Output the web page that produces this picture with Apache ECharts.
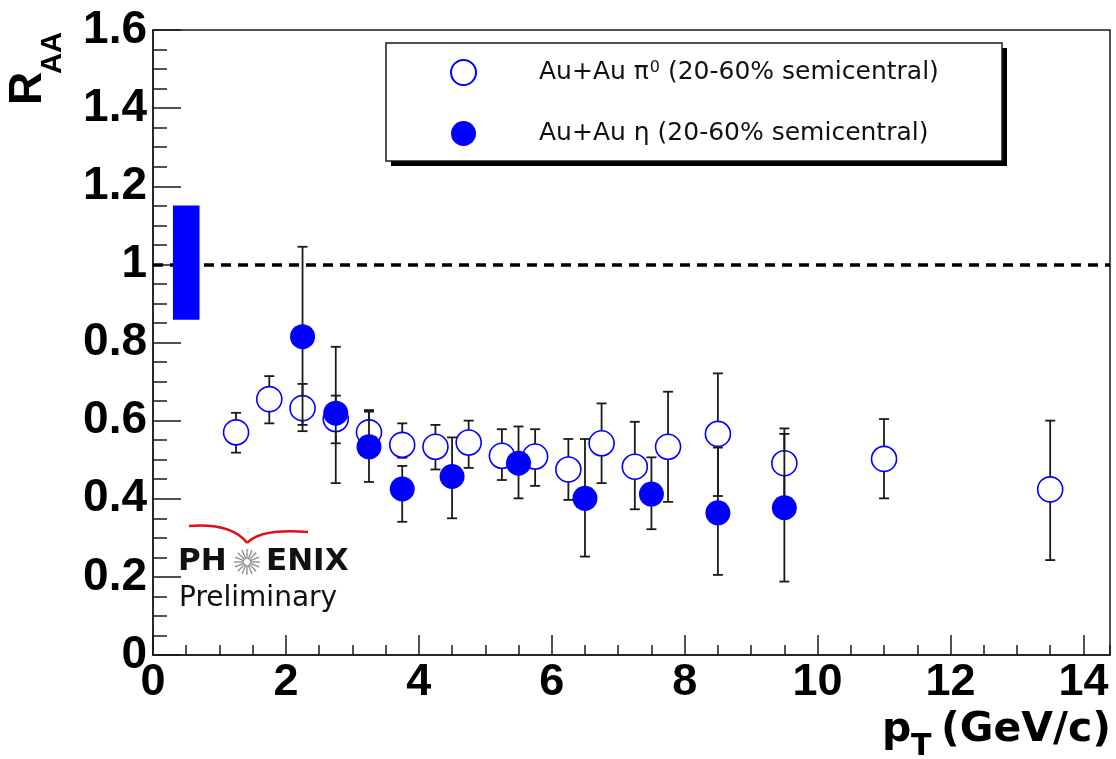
<!DOCTYPE html>
<html>
<head>
<meta charset="utf-8">
<title>R_AA vs pT</title>
<script src="https://cdn.jsdelivr.net/npm/echarts@6/dist/echarts.min.js"></script>
<style>
  html, body { margin: 0; padding: 0; background: #fff; }
  #chart { width: 1116px; height: 759px; }
</style>
</head>
<body>
<div id="chart"></div>
<script>
// pi0 R_AA, 20-60% Au+Au
const pi0Pt = [1.25, 1.75, 2.25, 2.75, 3.25, 3.75, 4.25, 4.75, 5.25, 5.75, 6.25, 6.75, 7.25, 7.75, 8.5, 9.5, 11.0, 13.5];
const pi0R  = [0.570, 0.655, 0.632, 0.604, 0.570, 0.538, 0.533, 0.544, 0.510, 0.508, 0.475, 0.542, 0.482, 0.533, 0.566, 0.491, 0.502, 0.424];
const pi0Lo = [0.518, 0.593, 0.589, 0.542, 0.515, 0.505, 0.475, 0.479, 0.448, 0.433, 0.397, 0.440, 0.373, 0.392, 0.407, 0.400, 0.401, 0.243];
const pi0Hi = [0.620, 0.714, 0.694, 0.664, 0.627, 0.593, 0.589, 0.600, 0.578, 0.578, 0.553, 0.644, 0.597, 0.674, 0.721, 0.580, 0.604, 0.600];

// eta R_AA, 20-60% Au+Au
const etaPt = [2.25, 2.75, 3.25, 3.75, 4.5, 5.5, 6.5, 7.5, 8.5, 9.5];
const etaR  = [0.815, 0.619, 0.533, 0.425, 0.457, 0.491, 0.401, 0.412, 0.364, 0.377];
const etaLo = [0.573, 0.440, 0.443, 0.341, 0.350, 0.401, 0.252, 0.322, 0.205, 0.188];
const etaHi = [1.045, 0.789, 0.623, 0.484, 0.557, 0.585, 0.553, 0.506, 0.531, 0.566];

// global normalisation uncertainty band drawn at unity
const normBoxX = [0.3, 0.7];
const normBoxY = [0.858, 1.151];
const unityLevel = 1;

// axes
const xRange = [0, 14.4];
const yRange = [0, 1.6];
const xMajorStep = 2;
const xMinorStep = 0.5;
const yMajorStep = 0.2;

const seriesNames = ['Au+Au π0 (20-60% semicentral)', 'Au+Au η (20-60% semicentral)'];

const TICK_FONT = '"Liberation Sans", Arial, Helvetica, sans-serif';
const TEXT_FONT = '"DejaVu Sans", "Liberation Sans", sans-serif';
const BLUE = '#0000ff';
const INK = '#1a1a1a';

function errorBars(params, api) {
  const x = api.value(0);
  const lo = api.coord([x, api.value(1)]);
  const hi = api.coord([x, api.value(2)]);
  const c = 5;
  const st = { stroke: INK, lineWidth: 1.8 };
  return {
    type: 'group',
    children: [
      { type: 'line', shape: { x1: lo[0], y1: lo[1], x2: hi[0], y2: hi[1] }, style: st },
      { type: 'line', shape: { x1: lo[0] - c, y1: lo[1], x2: lo[0] + c, y2: lo[1] }, style: st },
      { type: 'line', shape: { x1: hi[0] - c, y1: hi[1], x2: hi[0] + c, y2: hi[1] }, style: st }
    ]
  };
}

function normBox(params, api) {
  const p0 = api.coord([api.value(0), api.value(3)]);
  const p1 = api.coord([api.value(1), api.value(2)]);
  return {
    type: 'rect',
    shape: { x: p0[0], y: p0[1], width: p1[0] - p0[0], height: p1[1] - p0[1] },
    style: { fill: BLUE }
  };
}

const chart = echarts.init(document.getElementById('chart'), null, { renderer: 'canvas' });

// PHENIX logo star rays
const rays = [];
for (let k = 0; k < 16; k++) {
  const a = k * Math.PI / 8;
  rays.push({
    type: 'line',
    shape: { x1: 247 + 3 * Math.cos(a), y1: 562 + 3 * Math.sin(a), x2: 247 + 13 * Math.cos(a), y2: 562 + 13 * Math.sin(a) },
    style: { stroke: '#8a8a8a', lineWidth: 1.3 }
  });
}

const option = {
  animation: false,
  backgroundColor: '#fff',
  grid: { left: 153, right: 6, top: 30, bottom: 104, show: true, borderColor: INK, borderWidth: 1.5, backgroundColor: 'transparent', outerBoundsMode: 'none' },
  xAxis: [
    {
      type: 'value', min: xRange[0], max: xRange[1], interval: xMajorStep,
      axisLine: { show: true, onZero: false, lineStyle: { color: INK, width: 1.5 } },
      axisTick: { inside: true, length: 20, lineStyle: { color: INK, width: 1.5 } },
      splitLine: { show: false },
      axisLabel: { fontSize: 45, fontWeight: 'bold', color: '#000', fontFamily: TICK_FONT, margin: 5, showMaxLabel: false }
    },
    {
      type: 'value', min: xRange[0], max: xRange[1], interval: xMinorStep, position: 'bottom',
      axisLine: { show: false },
      axisTick: { inside: true, length: 10, lineStyle: { color: INK, width: 1.5 } },
      splitLine: { show: false },
      axisLabel: { show: false }
    }
  ],
  yAxis: {
    type: 'value', min: yRange[0], max: yRange[1], interval: yMajorStep,
    axisLine: { show: true, onZero: false, lineStyle: { color: INK, width: 1.5 } },
    axisTick: { inside: true, length: 28, lineStyle: { color: INK, width: 1.5 } },
    minorTick: { show: true, splitNumber: 4, length: 14, lineStyle: { color: INK, width: 1.5 } },
    splitLine: { show: false },
    axisLabel: { fontSize: 46, fontWeight: 'bold', color: '#000', fontFamily: TICK_FONT, margin: 6 }
  },
  legend: {
    data: seriesNames,
    orient: 'vertical',
    left: 450, top: 59,
    padding: 0,
    itemWidth: 25, itemHeight: 25, itemGap: 35,
    icon: 'circle',
    selectedMode: false,
    z: 10,
    formatter: function (name) {
      return name.indexOf('π0') >= 0
        ? '{t|Au+Au π}{s|0}{t| (20-60% semicentral)}'
        : '{t|' + name + '}';
    },
    textStyle: {
      padding: [0, 0, 0, 58],
      rich: {
        t: { fontSize: 25, color: '#111', fontFamily: TEXT_FONT },
        s: { fontSize: 16, color: '#111', fontFamily: TEXT_FONT, verticalAlign: 'top', padding: [0, 0, 10, 1] }
      }
    }
  },
  series: [
    {
      type: 'custom', name: 'pi0 errors', z: 2, silent: true,
      renderItem: errorBars,
      encode: { x: 0, y: [1, 2] },
      data: pi0Pt.map((x, i) => [x, pi0Lo[i], pi0Hi[i]]),
      markLine: {
        silent: true, symbol: ['none', 'none'], label: { show: false },
        lineStyle: { color: '#000', width: 3.5, type: [10, 7] },
        data: [{ yAxis: unityLevel }]
      }
    },
    {
      type: 'scatter', name: seriesNames[0], z: 3,
      symbol: 'circle', symbolSize: 25,
      itemStyle: { color: '#fff', borderColor: BLUE, borderWidth: 1.6, opacity: 1 },
      emphasis: { disabled: true },
      data: pi0Pt.map((x, i) => [x, pi0R[i]])
    },
    {
      type: 'custom', name: 'eta errors', z: 4, silent: true,
      renderItem: errorBars,
      encode: { x: 0, y: [1, 2] },
      data: etaPt.map((x, i) => [x, etaLo[i], etaHi[i]])
    },
    {
      type: 'scatter', name: seriesNames[1], z: 5,
      symbol: 'circle', symbolSize: 25,
      itemStyle: { color: BLUE, opacity: 1 },
      emphasis: { disabled: true },
      data: etaPt.map((x, i) => [x, etaR[i]])
    },
    {
      type: 'custom', name: 'normalisation', z: 6, silent: true,
      renderItem: normBox,
      encode: { x: [0, 1], y: [2, 3] },
      data: [[normBoxX[0], normBoxX[1], normBoxY[0], normBoxY[1]]]
    }
  ],
  graphic: [
    // legend frame with drop shadow
    { type: 'rect', z: 1, shape: { x: 391, y: 48, width: 616, height: 118 }, style: { fill: '#000' } },
    { type: 'rect', z: 2, shape: { x: 386, y: 43, width: 616, height: 118 }, style: { fill: '#fff', stroke: INK, lineWidth: 1.5 } },
    // y-axis title R_AA
    { type: 'text', z: 5, x: 28, y: 105, rotation: Math.PI / 2,
      style: { text: 'R', fontSize: 46, fontWeight: 'bold', fontFamily: TICK_FONT, fill: '#000', align: 'left', verticalAlign: 'middle' } },
    { type: 'text', z: 5, x: 53, y: 74, rotation: Math.PI / 2,
      style: { text: 'AA', fontSize: 29, fontWeight: 'bold', fontFamily: TICK_FONT, fill: '#000', align: 'left', verticalAlign: 'middle' } },
    // x-axis title p_T (GeV/c)
    { type: 'text', z: 5, x: 882, y: 730,
      style: { text: 'p', fontSize: 41, fontWeight: 'bold', fontFamily: TEXT_FONT, fill: '#000', align: 'left', verticalAlign: 'middle' } },
    { type: 'text', z: 5, x: 911, y: 747,
      style: { text: 'T', fontSize: 30, fontWeight: 'bold', fontFamily: TEXT_FONT, fill: '#000', align: 'left', verticalAlign: 'middle' } },
    { type: 'text', z: 5, x: 1111, y: 730,
      style: { text: '(GeV/c)', fontSize: 41, fontWeight: 'bold', fontFamily: TEXT_FONT, fill: '#000', align: 'right', verticalAlign: 'middle' } },
    // PHENIX Preliminary tag
    { type: 'bezierCurve', z: 5, shape: { x1: 189, y1: 526, cpx1: 232, cpy1: 523, x2: 247, y2: 543 },
      style: { stroke: '#e01010', lineWidth: 2.5, fill: null } },
    { type: 'bezierCurve', z: 5, shape: { x1: 247, y1: 543, cpx1: 261, cpy1: 528, x2: 308, y2: 532 },
      style: { stroke: '#e01010', lineWidth: 2.5, fill: null } },
    { type: 'text', z: 5, x: 178, y: 562,
      style: { text: 'PH', fontSize: 31, fontWeight: 'bold', fontFamily: TEXT_FONT, fill: '#111', align: 'left', verticalAlign: 'middle' } },
    { type: 'group', z: 5, children: rays },
    { type: 'text', z: 5, x: 266, y: 562,
      style: { text: 'ENIX', fontSize: 31, fontWeight: 'bold', fontFamily: TEXT_FONT, fill: '#111', align: 'left', verticalAlign: 'middle' } },
    { type: 'text', z: 5, x: 179, y: 599,
      style: { text: 'Preliminary', fontSize: 28, fontFamily: TEXT_FONT, fill: '#111', align: 'left', verticalAlign: 'middle' } }
  ]
};

chart.setOption(option);
</script>
</body>
</html>
